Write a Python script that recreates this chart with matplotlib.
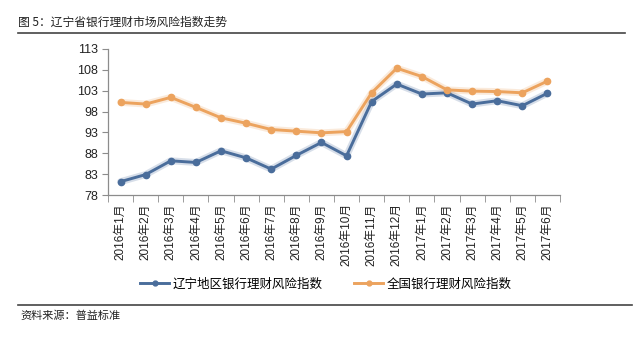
import numpy as np
import matplotlib.pyplot as plt
from matplotlib.lines import Line2D

plt.rcParams['font.family'] = ['Liberation Sans', 'Noto Sans CJK SC', 'DejaVu Sans']

# 数据
months = ['2016年1月', '2016年2月', '2016年3月', '2016年4月', '2016年5月', '2016年6月',
          '2016年7月', '2016年8月', '2016年9月', '2016年10月', '2016年11月', '2016年12月',
          '2017年1月', '2017年2月', '2017年3月', '2017年4月', '2017年5月', '2017年6月']
liaoning = [81.2, 82.9, 86.2, 85.8, 88.6, 86.9, 84.2, 87.5, 90.6, 87.4,
            100.4, 104.6, 102.2, 102.5, 99.8, 100.6, 99.4, 102.4]
national = [100.2, 99.8, 101.4, 99.0, 96.5, 95.2, 93.7, 93.3, 92.9, 93.2,
            102.5, 108.4, 106.4, 103.2, 102.9, 102.8, 102.5, 105.3]
yticks = [78, 83, 88, 93, 98, 103, 108, 113]

c_blue = '#4a6d9b'
c_orange = '#eca35e'
c_axis = '#8c8c8c'
cjk = ['Noto Sans CJK SC', 'DejaVu Sans']

fig = plt.figure(figsize=(6.4, 3.43), dpi=100)
ax = fig.add_axes([108/640, 1-195/343, 452/640, 146/343])

x = np.arange(len(months))
for y, c in [(liaoning, c_blue), (national, c_orange)]:
    # 模糊的光晕效果
    ax.plot(x, y, color=c, lw=5, alpha=0.22, solid_capstyle='round')
    ax.plot(x, y, color=c, lw=2.1, marker='o', ms=4.5, mec=c, mfc=c)

ax.set_xlim(-0.5, len(months) - 0.5)
ax.set_ylim(78, 113)
ax.set_yticks(yticks)
ax.tick_params(axis='y', labelsize=9, length=4, color=c_axis, pad=3, labelcolor='#222222')

ax.set_xticks(x)
ax.set_xticklabels(months, rotation=90, fontsize=8.5, color='#222222')
ax.tick_params(axis='x', which='major', length=0, pad=6)
ax.set_xticks(np.arange(-0.5, len(months)), minor=True)
ax.tick_params(axis='x', which='minor', length=5, color=c_axis)

for s in ['top', 'right']:
    ax.spines[s].set_visible(False)
for s in ['left', 'bottom']:
    ax.spines[s].set_color(c_axis)
    ax.spines[s].set_linewidth(0.9)

handles = [Line2D([], [], color=c_blue, lw=2.1, marker='o', ms=3.5),
           Line2D([], [], color=c_orange, lw=2.1, marker='o', ms=3.5)]
fig.legend(handles, ['辽宁地区银行理财风险指数', '全国银行理财风险指数'],
           loc='center', bbox_to_anchor=(326/640, 1-284/343), ncol=2,
           frameon=False, prop={'family': cjk, 'size': 9}, handlelength=2.3,
           handletextpad=0.3, columnspacing=2.5)

fig.text(18/640, 1-22/343, '图 5：辽宁省银行理财市场风险指数走势', fontsize=8.5,
         va='center', ha='left', color='#222222', family=cjk)
fig.add_artist(Line2D([18/640, 625/640], [1-33/343, 1-33/343], color='#444444', lw=1.2))
fig.add_artist(Line2D([18/640, 632/640], [1-305/343, 1-305/343], color='#444444', lw=1.2))
fig.text(20/640, 1-316/343, '资料来源：普益标准', fontsize=8, va='center', ha='left',
         color='#222222', family=cjk)

fig.savefig('out.png', dpi=100)
